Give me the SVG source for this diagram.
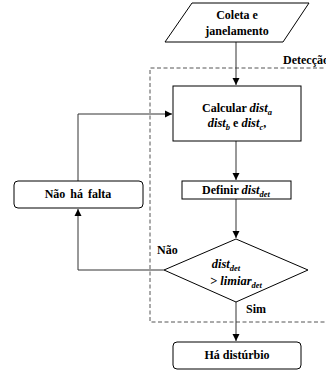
<svg xmlns="http://www.w3.org/2000/svg" width="326" height="374" viewBox="0 0 326 374">
<style>
.shape{fill:#fff;stroke:#000;stroke-width:1}
.t{font-family:'Liberation Serif',serif;font-weight:bold;font-size:12px;fill:#000}
.m{font-family:'Liberation Serif',serif;font-style:italic;font-weight:bold;font-size:12.5px}
.sub{font-size:8.5px}
.line{fill:none;stroke:#333;stroke-width:1}
</style>
<defs>
<marker id="arr" markerWidth="8" markerHeight="8" refX="7" refY="4" orient="auto" markerUnits="userSpaceOnUse">
<path d="M0,0.5 L7,4 L0,7.5 Z" fill="#000"/>
</marker>
</defs>
<g id="detection">
<path d="M330,68 H150 V322 H330" fill="none" stroke="#555" stroke-width="1" stroke-dasharray="4,2.5"/>
<text class="t" x="283" y="64">Detecção</text>
</g>
<g id="connectors">
<path class="line" d="M236,42 V85" marker-end="url(#arr)"/>
<path class="line" d="M236,141 V180" marker-end="url(#arr)"/>
<path class="line" d="M236,199 V238" marker-end="url(#arr)"/>
<path class="line" d="M164,270 H78 V209" marker-end="url(#arr)"/>
<path class="line" d="M78,181 V114 H172" marker-end="url(#arr)"/>
<path class="line" d="M236,302 V341" marker-end="url(#arr)"/>
<text class="t" x="157" y="254">Não</text>
<text class="t" x="246" y="313">Sim</text>
</g>
<g id="coleta">
<path class="shape" d="M192,3 H309 L283,42 H165 Z"/>
<text class="t" x="237" y="19" text-anchor="middle">Coleta e</text>
<text class="t" x="237" y="35" text-anchor="middle">janelamento</text>
</g>
<g id="calcular">
<rect class="shape" x="173" y="86" width="128" height="55"/>
<text class="t" x="237" y="112" text-anchor="middle">Calcular <tspan class="m">dist</tspan><tspan class="m sub" dy="3">a</tspan></text>
<text class="t" x="237" y="127" text-anchor="middle"><tspan class="m">dist</tspan><tspan class="m sub" dy="3">b</tspan><tspan dy="-3"> e </tspan><tspan class="m">dist</tspan><tspan class="m sub" dy="3">c</tspan><tspan dy="-3">,</tspan></text>
</g>
<g id="definir">
<rect class="shape" x="182" y="181" width="109" height="18"/>
<text class="t" x="236" y="194" text-anchor="middle">Definir <tspan class="m">dist</tspan><tspan class="m sub" dy="3">det</tspan></text>
</g>
<g id="decisao">
<path class="shape" d="M236,239 L308,270 L236,302 L164,270 Z"/>
<text class="t" x="226" y="268" text-anchor="middle"><tspan class="m">dist</tspan><tspan class="m sub" dy="3">det</tspan></text>
<text class="t" x="236" y="285" text-anchor="middle"><tspan class="m">&gt; limiar</tspan><tspan class="m sub" dy="3">det</tspan></text>
</g>
<g id="naohafalta">
<rect class="shape" x="14" y="181" width="129" height="27" rx="4"/>
<text class="t" x="78" y="198" text-anchor="middle" word-spacing="2">Não há falta</text>
</g>
<g id="hadisturbio">
<rect class="shape" x="173" y="342" width="128" height="27" rx="4"/>
<text class="t" x="237" y="359" text-anchor="middle">Há distúrbio</text>
</g>
</svg>
